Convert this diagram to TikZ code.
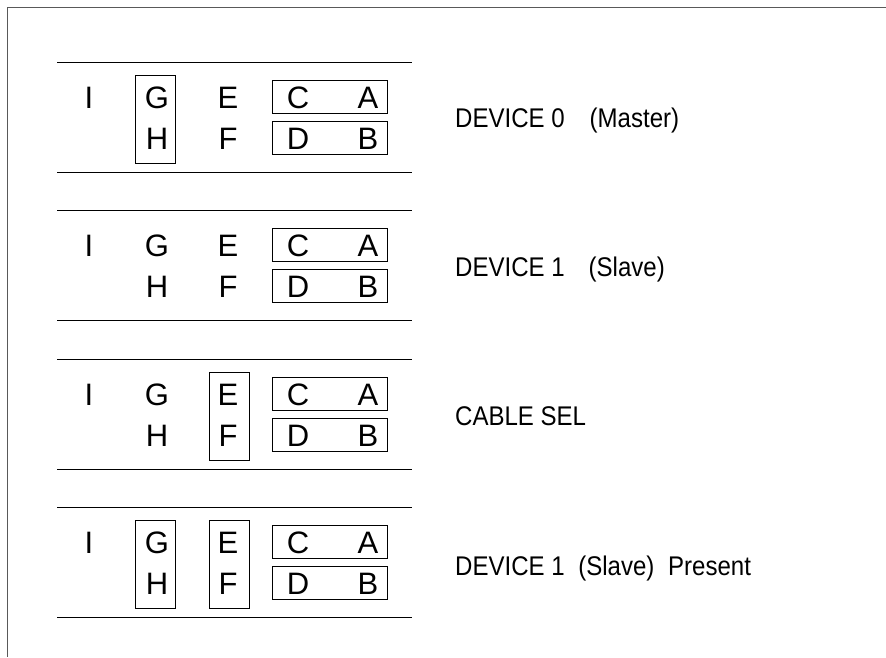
\documentclass[tikz,border=0pt]{standalone}
\usepackage{fontspec}
\setmainfont{Liberation Sans}
\newfontfamily\narrowfnt[FakeStretch=0.89]{Liberation Sans}
\tikzset{
  ltr/.style={font=\fontsize{31}{33}\selectfont, inner sep=0pt, anchor=base},
  lbl/.style={font=\narrowfnt\fontsize{27}{29}\selectfont, inner sep=0pt, anchor=base west},
  boxn/.style={draw, line width=0.9pt, inner sep=0pt},
  rowbox/.style={boxn, minimum width=115pt, minimum height=33pt},
  colbox/.style={boxn, minimum width=40pt, minimum height=88pt},
  rulel/.style={line width=1pt},
  framel/.style={line width=1.4pt, draw=black!65}
}
\begin{document}
\begin{tikzpicture}[x=1pt,y=-1pt]
\useasboundingbox (0,0) rectangle (886,657);
\coordinate (ftr) at (886,7.5);
\coordinate (ftl) at (7.5,7.5);
\coordinate (fbl) at (7.5,657);
\draw[framel] (ftr) -- (ftl) -- (fbl);

\foreach \k/\T in {1/62,2/210.7,3/359.5,4/507.3} {
  \coordinate (t\k l) at (57,\T);
  \coordinate (t\k r) at (412,\T);
  \coordinate (b\k l) at (57,\T+110);
  \coordinate (b\k r) at (412,\T+110);
  \draw[rulel] (t\k l) -- (t\k r);
  \draw[rulel] (b\k l) -- (b\k r);
  \node[rowbox] (ca\k) at (329.5,\T+34.5) {};
  \node[rowbox] (db\k) at (329.5,\T+75.5) {};
  \node[ltr] (I\k) at (89,\T+46) {I};
  \node[ltr] (G\k) at (157,\T+46) {G};
  \node[ltr] (H\k) at (157,\T+87) {H};
  \node[ltr] (E\k) at (228,\T+46) {E};
  \node[ltr] (F\k) at (228,\T+87) {F};
  \node[ltr] (C\k) at (298,\T+46) {C};
  \node[ltr] (A\k) at (368,\T+46) {A};
  \node[ltr] (D\k) at (298,\T+87) {D};
  \node[ltr] (B\k) at (368,\T+87) {B};
}

\node[colbox] (gh1) at (155,62+57) {};
\node[colbox] (gh4) at (155,507.3+57) {};
\node[colbox] (ef3) at (229,359.5+57) {};
\node[colbox] (ef4) at (229.5,507.3+57) {};

\node[lbl] (lab1) at (455,127.7) {DEVICE 0\hspace{25pt}(Master)};
\node[lbl] (lab2) at (455,276.7) {DEVICE 1\hspace{24pt}(Slave)};
\node[lbl] (lab3) at (455,425.2) {CABLE SEL};
\node[lbl] (lab4) at (455,575.7) {DEVICE 1\hspace{7pt} (Slave)\hspace{7pt} Present};
\end{tikzpicture}
\end{document}
